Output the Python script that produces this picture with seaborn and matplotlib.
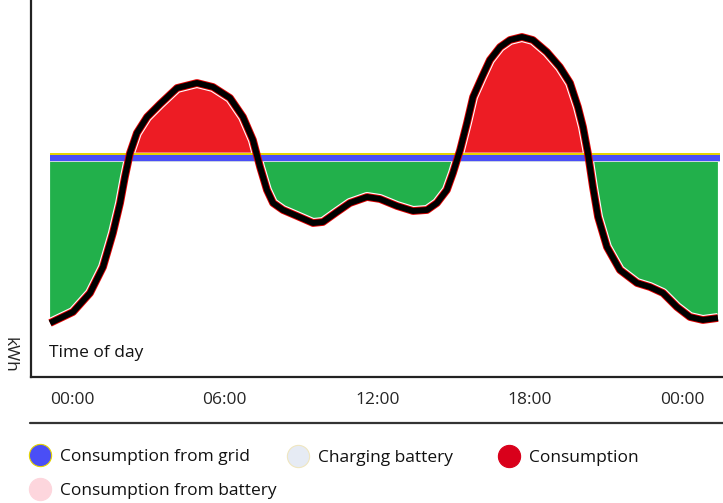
import matplotlib
matplotlib.use("Agg")
import matplotlib.pyplot as plt
import seaborn as sns
import pandas as pd
from matplotlib.lines import Line2D

# ---- data ----
hours = [-0.86, 0.04, 0.71, 1.22, 1.61, 1.89, 2.08, 2.28, 2.55, 2.95, 3.46, 4.13,
         4.91, 5.54, 6.21, 6.72, 7.11, 7.39, 7.66, 7.90, 8.29, 8.84, 9.47, 9.86,
         10.41, 10.92, 11.59, 12.10, 12.77, 13.40, 13.95, 14.34, 14.73, 14.97,
         15.25, 15.52, 15.76, 16.11, 16.42, 16.82, 17.21, 17.68, 18.11, 18.66,
         19.17, 19.57, 19.88, 20.08, 20.27, 20.47, 20.67, 21.02, 21.53, 22.20,
         22.71, 23.22, 23.77, 24.28, 24.79, 25.38]
kwh = [-4.15, -3.875, -3.40, -2.75, -1.90, -1.15, -0.50, 0.10, 0.60, 1.00, 1.325,
       1.725, 1.85, 1.75, 1.475, 1.00, 0.425, -0.25, -0.825, -1.15, -1.325,
       -1.475, -1.65, -1.625, -1.375, -1.15, -1.00, -1.05, -1.225, -1.35, -1.325,
       -1.15, -0.825, -0.40, 0.175, 0.85, 1.50, 2.00, 2.425, 2.75, 2.925, 3.00,
       2.925, 2.625, 2.25, 1.85, 1.25, 0.75, 0.10, -0.75, -1.50, -2.25, -2.825,
       -3.15, -3.25, -3.40, -3.75, -4.00, -4.075, -4.025]
tick_hours = [0, 6, 12, 18, 24]
tick_labels = ["00:00", "06:00", "12:00", "18:00", "00:00"]
legend_labels = ["Consumption from grid", "Consumption from battery",
                 "Charging battery", "Consumption"]

# ---- style ----
GREEN = "#22b04b"
RED = "#ed1c24"
BLUE = "#4a4ef6"
YELLOW = "#e6d400"
LIGHT = "#c9d2e2"
FONT = ["Open Sans", "DejaVu Sans"]

sns.set_theme(style="white")
plt.rcParams["font.family"] = FONT
plt.rcParams["text.color"] = "#111111"

df = pd.DataFrame({"hour": hours, "kwh": kwh})

fig = plt.figure(figsize=(7.23, 5.03), dpi=100)
ax = fig.add_axes([31 / 723, 1 - 377 / 503, 1 - 31 / 723, 377 / 503])

ax.set_xlim(-1.61, 25.58)
ax.set_ylim(-5.5, 3.925)

x0, x1 = df["hour"].iloc[0], df["hour"].iloc[-1]
band_top, band_bot = 0.11, -0.11

# fills
ax.fill_between(df["hour"], df["kwh"], band_top, where=df["kwh"] > band_top,
                interpolate=True, color=RED, linewidth=0, zorder=2)
ax.fill_between(df["hour"], df["kwh"], band_bot, where=df["kwh"] < band_bot,
                interpolate=True, color=GREEN, linewidth=0, zorder=2)

# white halo inside fills (below the band)
sns.lineplot(data=df, x="hour", y="kwh", ax=ax, color="white", linewidth=7.2,
             solid_capstyle="butt", solid_joinstyle="round", zorder=2.5)

# baseline band
ax.fill_between([x0, x1 + 0.1], 0.1125, 0.0625, color=YELLOW, linewidth=0, zorder=3)
ax.fill_between([x0, x1 + 0.1], 0.0625, -0.0875, color=BLUE, linewidth=0, zorder=3)
ax.fill_between([x0, x1 + 0.1], -0.0875, -0.1125, color=LIGHT, linewidth=0, zorder=3)

# consumption curve: red edge, black core
sns.lineplot(data=df, x="hour", y="kwh", ax=ax, color="#e00000", linewidth=5.6,
             solid_capstyle="butt", solid_joinstyle="round", zorder=5)
sns.lineplot(data=df, x="hour", y="kwh", ax=ax, color="black", linewidth=4.3,
             solid_capstyle="butt", solid_joinstyle="round", zorder=6)

# axes styling
for s in ["top", "right"]:
    ax.spines[s].set_visible(False)
for s in ["left", "bottom"]:
    ax.spines[s].set_color("#222222")
    ax.spines[s].set_linewidth(1.6)
ax.set_xticks(tick_hours)
ax.set_xticklabels(tick_labels, fontsize=12.5, family=FONT)
ax.set_yticks([])
ax.tick_params(axis="x", length=0, pad=11)
ax.set_xlabel("")
ax.set_ylabel("kWh", rotation=270, fontsize=12.5, family=FONT, ha="center", va="center")
ax.yaxis.set_label_coords(-0.031, 0.058)

ax.text((49 - 31) / 692, (377 - 353) / 377, "Time of day", transform=ax.transAxes,
        ha="left", va="center", fontsize=12.5, family=FONT)

# line below tick labels
fig.add_artist(Line2D([30 / 723, 1.0], [1 - 423 / 503] * 2, transform=fig.transFigure,
                      color="#333333", linewidth=1.6))

# legend
def handle(face, edge):
    return Line2D([], [], linestyle="none", marker="o", markersize=16,
                  markerfacecolor=face, markeredgecolor=edge, markeredgewidth=0.8)

h_grid = handle(BLUE, YELLOW)
h_batt = handle("#fdd6dd", "#fdd6dd")
h_chg = handle("#e6ebf4", "#efe6c0")
h_cons = handle("#d9001b", "#d9001b")

common = dict(frameon=False, borderpad=0, borderaxespad=0,
              handlelength=1.3, handletextpad=0.5, labelspacing=1.0,
              prop={"family": FONT, "size": 12.5}, loc="center left")
fig.legend([h_grid, h_batt], legend_labels[:2],
           bbox_to_anchor=(28.5 / 723, 1 - 474 / 503), **common)
fig.legend([h_chg], [legend_labels[2]],
           bbox_to_anchor=(286.5 / 723, 1 - 458 / 503), **common)
fig.legend([h_cons], [legend_labels[3]],
           bbox_to_anchor=(497.5 / 723, 1 - 458 / 503), **common)

fig.savefig("out.png", dpi=100)
